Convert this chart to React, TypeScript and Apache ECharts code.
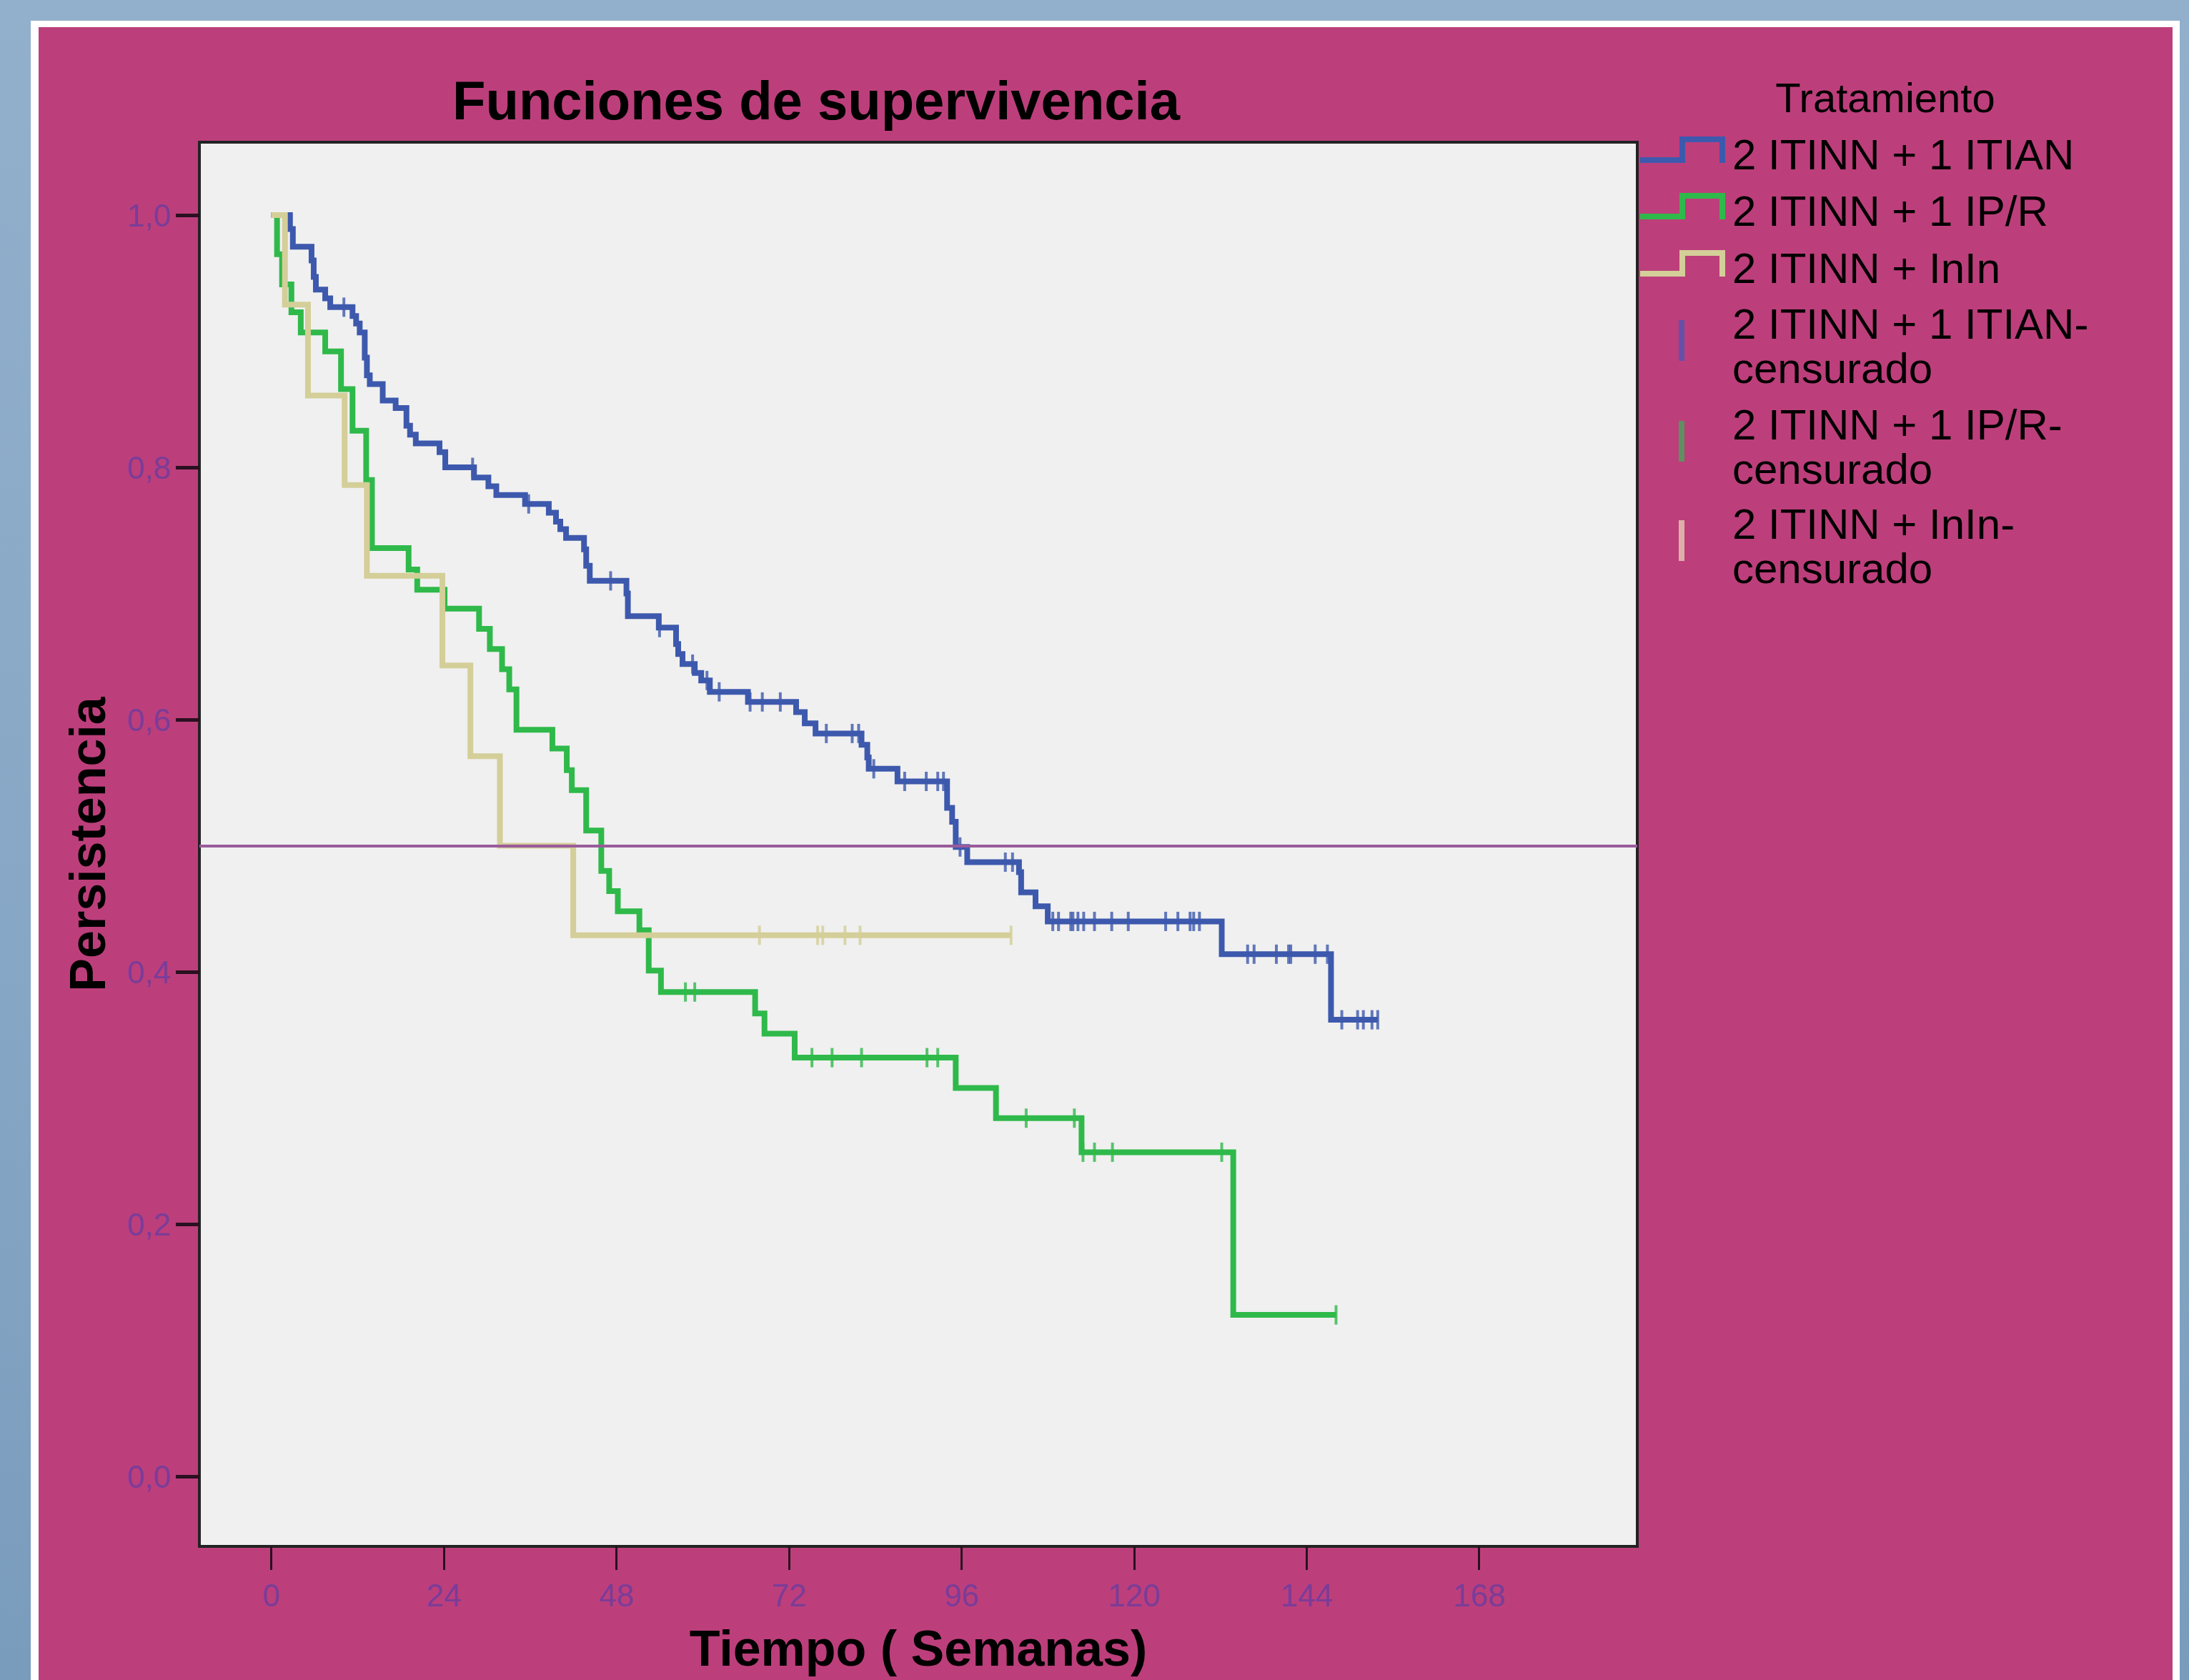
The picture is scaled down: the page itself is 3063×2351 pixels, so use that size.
import React, { useEffect, useRef } from "react";
import * as echarts from "echarts";

// ---- data ----
const GROUP_NAMES = ["2 ITINN + 1 ITIAN", "2 ITINN + 1 IP/R", "2 ITINN + InIn"];
const CENSOR_SUFFIX = "-censurado";
const TIME_TICKS = [0, 24, 48, 72, 96, 120, 144, 168];
const SURV_TICKS = [0, 0.2, 0.4, 0.6, 0.8, 1.0];

// Kaplan-Meier steps: [week, survival after the event]
const itianSteps: [number, number][] = [
  [0, 1.0], [2.6, 0.989], [3.0, 0.975], [5.6, 0.964], [5.9, 0.951], [6.2, 0.941],
  [7.5, 0.934], [8.2, 0.927], [11.3, 0.92], [11.8, 0.914], [12.3, 0.907], [13.0, 0.887],
  [13.3, 0.873], [13.7, 0.866], [15.5, 0.853], [17.3, 0.847], [18.8, 0.833], [19.3, 0.826],
  [20.1, 0.819], [23.4, 0.812], [24.2, 0.8], [28.2, 0.792], [30.2, 0.785], [31.3, 0.778],
  [35.3, 0.771], [38.6, 0.764], [39.6, 0.757], [40.2, 0.751], [41.0, 0.744], [43.5, 0.735],
  [43.8, 0.722], [44.3, 0.71], [49.4, 0.7], [49.6, 0.682], [53.9, 0.673], [56.3, 0.66],
  [56.6, 0.652], [57.2, 0.644], [58.9, 0.637], [59.8, 0.631], [61.0, 0.622], [66.3, 0.614],
  [73.0, 0.606], [74.2, 0.597], [75.7, 0.589], [82.1, 0.58], [82.9, 0.57], [83.1, 0.561],
  [87.1, 0.551], [94.0, 0.53], [94.7, 0.519], [95.2, 0.499], [96.8, 0.487], [104.0, 0.479],
  [104.3, 0.463], [106.3, 0.452], [108.0, 0.44], [132.2, 0.414], [147.4, 0.362], [153.9, 0.362],
];
const itianCensored: [number, number][] = [
  [10.1, 0.927], [28.0, 0.8], [35.8, 0.771], [47.2, 0.71], [54.0, 0.673], [58.6, 0.644],
  [60.6, 0.631], [62.3, 0.622], [66.6, 0.614], [68.3, 0.614], [70.8, 0.614], [77.2, 0.589],
  [80.8, 0.589], [81.7, 0.589], [83.8, 0.561], [88.1, 0.551], [91.1, 0.551], [92.7, 0.551],
  [93.5, 0.551], [95.8, 0.499], [102.1, 0.487], [103.1, 0.487], [108.7, 0.44], [109.5, 0.44],
  [111.2, 0.44], [111.5, 0.44], [112.2, 0.44], [113.0, 0.44], [114.5, 0.44], [116.9, 0.44],
  [119.2, 0.44], [124.4, 0.44], [126.1, 0.44], [127.8, 0.44], [128.3, 0.44], [129.1, 0.44],
  [135.8, 0.414], [136.7, 0.414], [139.8, 0.414], [141.5, 0.414], [141.8, 0.414], [145.2, 0.414],
  [146.9, 0.414], [148.9, 0.362], [151.1, 0.362], [151.9, 0.362], [153.1, 0.362], [153.9, 0.362],
];

const iprSteps: [number, number][] = [
  [0, 1.0], [0.8, 0.969], [1.5, 0.945], [2.8, 0.923], [4.1, 0.907], [7.5, 0.892],
  [9.7, 0.862], [11.3, 0.829], [13.2, 0.79], [14.0, 0.736], [19.1, 0.719], [20.3, 0.703],
  [24.1, 0.688], [28.9, 0.672], [30.4, 0.656], [32.1, 0.64], [33.1, 0.624], [34.1, 0.592],
  [39.1, 0.577], [41.1, 0.56], [41.8, 0.544], [43.8, 0.512], [45.9, 0.48], [47.0, 0.464],
  [48.2, 0.448], [51.2, 0.433], [52.5, 0.401], [54.2, 0.384], [67.3, 0.367], [68.6, 0.351],
  [72.8, 0.332], [95.2, 0.308], [100.8, 0.284], [112.7, 0.257], [133.8, 0.128], [148.1, 0.128],
];
const iprCensored: [number, number][] = [
  [57.6, 0.384], [58.9, 0.384], [75.2, 0.332], [78.0, 0.332], [82.1, 0.332], [91.2, 0.332],
  [92.7, 0.332], [105.0, 0.284], [111.7, 0.284], [112.9, 0.257], [114.5, 0.257], [117.0, 0.257],
  [132.2, 0.257], [148.1, 0.128],
];

const ininSteps: [number, number][] = [
  [0, 1.0], [1.9, 0.929], [5.1, 0.857], [10.2, 0.786], [13.3, 0.714], [23.8, 0.643],
  [27.7, 0.571], [31.8, 0.5], [42.0, 0.429], [102.9, 0.429],
];
const ininCensored: [number, number][] = [
  [67.9, 0.429], [76.0, 0.429], [76.7, 0.429], [79.8, 0.429], [81.9, 0.429], [102.9, 0.429],
];

const MEDIAN_LINE = 0.5;

// ---- styling ----
const COLORS = ["#3d59ad", "#2fb94a", "#d4ce98"];
const CENSOR_ICON_COLORS = ["#6450a8", "#5f9060", "#dcb0a8"];
const FONT = '"Liberation Sans", Arial, sans-serif';

export default function App() {
  const ref = useRef<HTMLDivElement>(null);

  useEffect(() => {
    if (!ref.current) return;
    const chart = echarts.init(ref.current, undefined, { renderer: "svg" });

    const steps = [itianSteps, iprSteps, ininSteps];
    const cens = [itianCensored, iprCensored, ininCensored];

    const series: any[] = [];
    steps.forEach((d, i) => {
      series.push({
        type: "line",
        name: GROUP_NAMES[i],
        data: d,
        step: "end",
        showSymbol: false,
        symbol: "none",
        lineStyle: { color: COLORS[i], width: 8, cap: "butt", join: "miter" },
        z: 3 + i,
        markLine:
          i === 2
            ? {
                silent: true,
                symbol: "none",
                label: { show: false },
                lineStyle: { color: "#9a5b9c", width: 4, type: "solid" },
                data: [{ yAxis: MEDIAN_LINE }],
                z: 20,
              }
            : undefined,
      });
    });
    cens.forEach((d, i) => {
      series.push({
        type: "scatter",
        name: GROUP_NAMES[i] + CENSOR_SUFFIX,
        data: d,
        symbol: "rect",
        symbolSize: [4, 27],
        itemStyle: { color: COLORS[i] },
        z: 6 + i,
      });
    });

    // legend (drawn with graphic elements to reproduce the step icons)
    const legendRows = [216, 295, 375];
    const graphic: any[] = [
      {
        type: "text",
        x: 1142,
        y: 140,
        style: {
          text: "Funciones de supervivencia",
          fontFamily: FONT,
          fontWeight: "bold",
          fontSize: 76,
          fill: "#000",
          align: "center",
          verticalAlign: "middle",
        },
      },
      {
        type: "text",
        x: 2638,
        y: 136,
        style: {
          text: "Tratamiento",
          fontFamily: FONT,
          fontSize: 58,
          fill: "#000",
          align: "center",
          verticalAlign: "middle",
        },
      },
    ];
    legendRows.forEach((cy, i) => {
      const low = cy + 8;
      const high = cy - 21;
      graphic.push({
        type: "polyline",
        shape: {
          points: [
            [2295, low],
            [2354, low],
            [2354, high],
            [2410, high],
            [2410, low + 4],
          ],
        },
        style: { stroke: COLORS[i], lineWidth: 8, fill: "none" },
      });
      graphic.push({
        type: "text",
        x: 2424,
        y: cy,
        style: {
          text: GROUP_NAMES[i],
          fontFamily: FONT,
          fontSize: 60,
          fill: "#000",
          align: "left",
          verticalAlign: "middle",
        },
      });
    });
    const censRows = [453, 594, 733];
    censRows.forEach((cy, i) => {
      graphic.push({
        type: "line",
        shape: { x1: 2353, y1: cy - 5, x2: 2353, y2: cy + 52 },
        style: { stroke: CENSOR_ICON_COLORS[i], lineWidth: 8 },
      });
      graphic.push({
        type: "text",
        x: 2424,
        y: cy - 31,
        style: {
          text: GROUP_NAMES[i] + "-\ncensurado",
          fontFamily: FONT,
          fontSize: 60,
          lineHeight: 62,
          fill: "#000",
          align: "left",
          verticalAlign: "top",
        },
      });
    });

    const option: any = {
      animation: false,
      backgroundColor: "transparent",
      grid: {
        left: 279,
        top: 199,
        width: 2012,
        height: 1965,
        show: true,
        backgroundColor: "#f0f0f0",
        borderColor: "#222",
        borderWidth: 4,
        containLabel: false,
        outerBoundsMode: "none",
      },
      xAxis: {
        type: "value",
        min: -10,
        max: 190,
        name: "Tiempo ( Semanas)",
        nameLocation: "middle",
        nameGap: 108,
        nameMoveOverlap: false,
        nameTextStyle: { fontFamily: FONT, fontWeight: "bold", fontSize: 70, color: "#000" },
        axisLine: { show: false, onZero: false },
        splitLine: { show: false },
        axisTick: {
          show: true,
          inside: false,
          length: 33,
          customValues: TIME_TICKS,
          lineStyle: { color: "#2a1020", width: 3 },
        },
        axisLabel: {
          show: true,
          customValues: TIME_TICKS,
          margin: 46,
          fontFamily: FONT,
          fontSize: 44,
          color: "#7b3c98",
        },
      },
      yAxis: {
        type: "value",
        min: -0.0555,
        max: 1.0578,
        name: "Persistencia",
        nameLocation: "middle",
        nameRotate: 90,
        nameGap: 121,
        nameMoveOverlap: false,
        nameTextStyle: { fontFamily: FONT, fontWeight: "bold", fontSize: 70, color: "#000" },
        axisLine: { show: false, onZero: false },
        splitLine: { show: false },
        axisTick: {
          show: true,
          inside: false,
          length: 33,
          customValues: SURV_TICKS,
          lineStyle: { color: "#2a1020", width: 5 },
        },
        axisLabel: {
          show: true,
          customValues: SURV_TICKS,
          margin: 40,
          fontFamily: FONT,
          fontSize: 44,
          color: "#7b3c98",
          formatter: (v: number) => v.toFixed(1).replace(".", ","),
        },
      },
      graphic,
      series,
    };

    chart.setOption(option);
    return () => chart.dispose();
  }, []);

  return (
    <div
      style={{
        position: "fixed",
        left: 0,
        top: 0,
        width: 3063,
        height: 2351,
        background: "linear-gradient(180deg, #92b0cc 0%, #86a6c5 60%, #7a9cbc 100%)",
        overflow: "hidden",
      }}
    >
      <div
        style={{
          position: "absolute",
          left: 43,
          top: 29,
          width: 3007,
          height: 2340,
          background: "#ffffff",
        }}
      />
      <div
        style={{
          position: "absolute",
          left: 54,
          top: 38,
          width: 2986,
          height: 2330,
          background: "#bc3f7b",
        }}
      />
      <div ref={ref} style={{ position: "absolute", left: 0, top: 0, width: 3063, height: 2351 }} />
    </div>
  );
}
